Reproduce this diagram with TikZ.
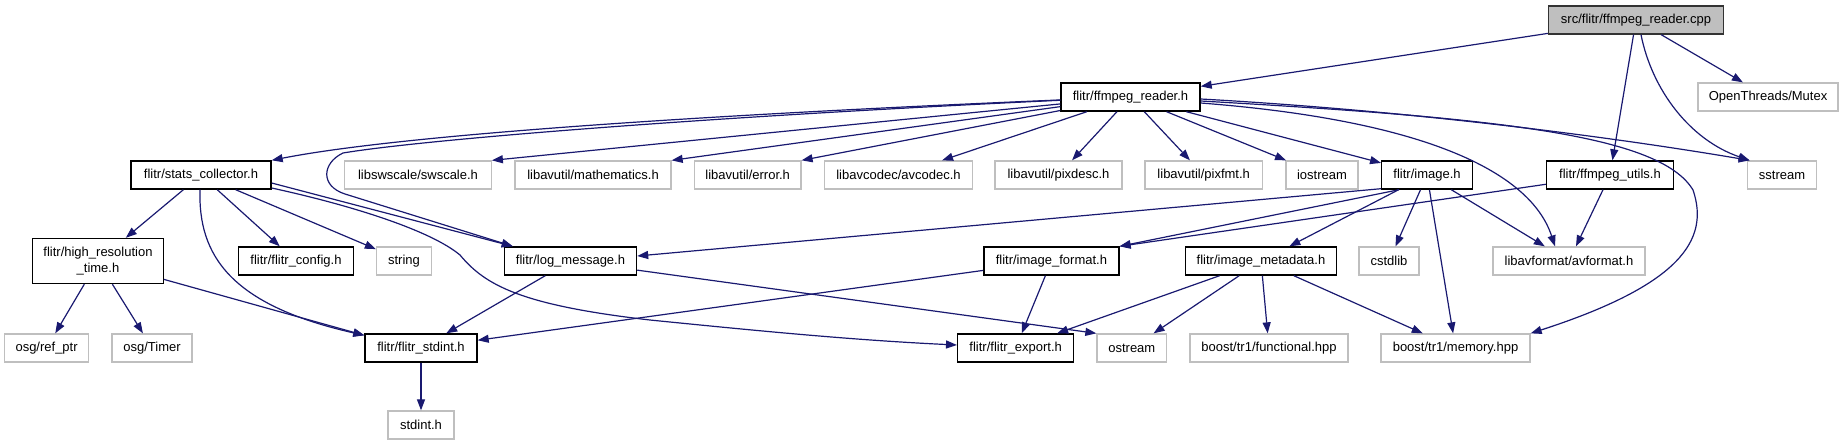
\documentclass[tikz,border=0pt]{standalone}
\usepackage{fontspec}
\setmainfont{Liberation Sans}
\usetikzlibrary{arrows.meta,calc}
\definecolor{edgeblue}{HTML}{191970}
\definecolor{greyline}{HTML}{BFBFBF}
\begin{document}
\begin{tikzpicture}[x=1pt,y=-1pt,
  every node/.style={font=\fontsize{13}{16.5}\selectfont, inner sep=0pt, minimum height=28pt, anchor=center},
  dbox/.style={draw=black, line width=1.4pt, fill=white},
  gbox/.style={draw=greyline, line width=1.3pt, fill=white},
  cbox/.style={draw=black!80, line width=1.4pt, fill=greyline},
  dep/.style={draw=edgeblue, line width=1.2pt, -{Triangle[length=11pt,width=8pt]}},
]
\useasboundingbox (0,0) rectangle (1843,445);
% nodes
\node[cbox, minimum width=175pt] (cpp) at (1636,20) {src/flitr/ffmpeg\_reader.cpp};
\node[dbox, minimum width=139pt] (reader) at (1130.5,97) {flitr/ffmpeg\_reader.h};
\node[gbox, minimum width=140pt] (mutex) at (1768,97) {OpenThreads/Mutex};
\node[dbox, minimum width=140pt] (stats) at (201,175) {flitr/stats\_collector.h};
\node[gbox, minimum width=146.5pt] (swscale) at (418,175) {libswscale/swscale.h};
\node[gbox, minimum width=156pt] (math) at (593,175) {libavutil/mathematics.h};
\node[gbox, minimum width=106.5pt] (error) at (747.7,175) {libavutil/error.h};
\node[gbox, minimum width=148pt] (avcodec) at (898.5,175) {libavcodec/avcodec.h};
\node[gbox, minimum width=127pt] (pixdesc) at (1058.5,175) {libavutil/pixdesc.h};
\node[gbox, minimum width=117.5pt] (pixfmt) at (1203.7,175) {libavutil/pixfmt.h};
\node[gbox, minimum width=72pt] (iostream) at (1322,175) {iostream};
\node[dbox, minimum width=90.5pt] (image) at (1427,175) {flitr/image.h};
\node[dbox, minimum width=127pt] (utils) at (1610,175) {flitr/ffmpeg\_utils.h};
\node[gbox, minimum width=69.5pt] (sstream) at (1782,175) {sstream};
\node[dbox, minimum width=130.5pt, minimum height=45pt, align=center] (hrt) at (98,261) {flitr/high\_resolution\\\_time.h};
\node[dbox, minimum width=114.5pt] (config) at (296,261) {flitr/flitr\_config.h};
\node[gbox, minimum width=55pt] (string) at (404,261) {string};
\node[dbox, minimum width=132pt] (logmsg) at (570.5,261) {flitr/log\_message.h};
\node[dbox, minimum width=135pt] (imgfmt) at (1051.4,261) {flitr/image\_format.h};
\node[dbox, minimum width=151pt] (imgmeta) at (1261,261) {flitr/image\_metadata.h};
\node[gbox, minimum width=60pt] (cstdlib) at (1389,261) {cstdlib};
\node[gbox, minimum width=152pt] (avformat) at (1569,261) {libavformat/avformat.h};
\node[gbox, minimum width=84pt] (refptr) at (46.6,348) {osg/ref\_ptr};
\node[gbox, minimum width=80pt] (timer) at (152,348) {osg/Timer};
\node[dbox, minimum width=112pt] (stdint) at (421,348) {flitr/flitr\_stdint.h};
\node[dbox, minimum width=116pt] (export) at (1015.7,348) {flitr/flitr\_export.h};
\node[gbox, minimum width=69.6pt] (ostream) at (1131.8,348) {ostream};
\node[gbox, minimum width=158pt] (functional) at (1269,348) {boost/tr1/functional.hpp};
\node[gbox, minimum width=149pt] (memory) at (1455.5,348) {boost/tr1/memory.hpp};
\node[gbox, minimum width=66pt] (stdinth) at (421,425) {stdint.h};
% edges from cpp
\draw[dep] (cpp) -- (reader);
\draw[dep] (cpp) -- (utils);
\draw[dep] (cpp) -- (mutex);
\draw[dep] ($(cpp.south)+(5,0)$) .. controls (1652,90) and (1690,140) .. ($(sstream.north west)+(3,0)$);
% edges from ffmpeg_reader.h
\draw[dep] (reader) .. controls (700,115) and (400,135) .. (stats.north east);
\draw[dep] (reader) .. controls (700,117) and (420,140) .. (343,153) .. controls (322,163) and (320,186) .. (345,194) -- ($(logmsg.north west)+(9,0)$);
\draw[dep] (reader) -- (swscale.north east);
\draw[dep] (reader) -- (math.north east);
\draw[dep] (reader) -- (error.north east);
\draw[dep] (reader) -- (avcodec);
\draw[dep] (reader) -- (pixdesc);
\draw[dep] (reader) -- (pixfmt);
\draw[dep] (reader) -- (iostream);
\draw[dep] (reader) -- (image);
\draw[dep] ($(reader.east)+(0,6)$) .. controls (1420,120) and (1530,170) .. ($(avformat.north)+(-14,0)$);
\draw[dep] ($(reader.east)+(0,2)$) .. controls (1400,110) and (1600,135) .. ($(sstream.north west)+(3,0)$);
\draw[dep] ($(reader.east)+(0,4)$) .. controls (1500,118) and (1660,135) .. (1693,190) .. controls (1710,240) and (1680,285) .. (memory.north east);
% edges from stats_collector.h
\draw[dep] (stats) -- (hrt);
\draw[dep] (stats) -- (config);
\draw[dep] (stats) -- (string);
\draw[dep] ($(stats.east)+(0,8)$) -- ($(logmsg.north west)+(9,0)$);
\draw[dep] ($(stats.east)+(0,13)$) .. controls (350,205) and (430,230) .. (460,255) .. controls (485,285) and (520,305) .. (650,320) .. controls (750,330) and (850,340) .. ($(export.west)+(0,-3)$);
\draw[dep] ($(stats.south)+(-1,0)$) .. controls (198,255) and (230,305) .. ($(stdint.north west)+(0,2)$);
% high_resolution_time.h
\draw[dep] (hrt) -- (refptr);
\draw[dep] (hrt) -- (timer);
\draw[dep] (hrt) -- ($(stdint.north west)+(0,2)$);
% log_message.h
\draw[dep] (logmsg) -- (stdint);
\draw[dep] (logmsg) -- (ostream.north west);
% image.h
\draw[dep] ($(image.south west)+(0,-1)$) -- ($(logmsg.east)+(0,-5)$);
\draw[dep] ($(image.south west)+(18,0)$) -- (imgfmt.north east);
\draw[dep] (image) -- (imgmeta);
\draw[dep] (image) -- (cstdlib);
\draw[dep] (image) -- (memory);
\draw[dep] (image) -- (avformat);
% ffmpeg_utils.h
\draw[dep] (utils) -- (imgfmt.north east);
\draw[dep] (utils) -- (avformat);
% image_format.h
\draw[dep] (imgfmt) -- (stdint);
\draw[dep] (imgfmt) -- (export);
% image_metadata.h
\draw[dep] (imgmeta) -- (export);
\draw[dep] (imgmeta) -- (ostream);
\draw[dep] (imgmeta) -- (functional);
\draw[dep] (imgmeta) -- (memory);
% flitr_stdint.h
\draw[dep] (stdint) -- (stdinth);
\end{tikzpicture}
\end{document}
